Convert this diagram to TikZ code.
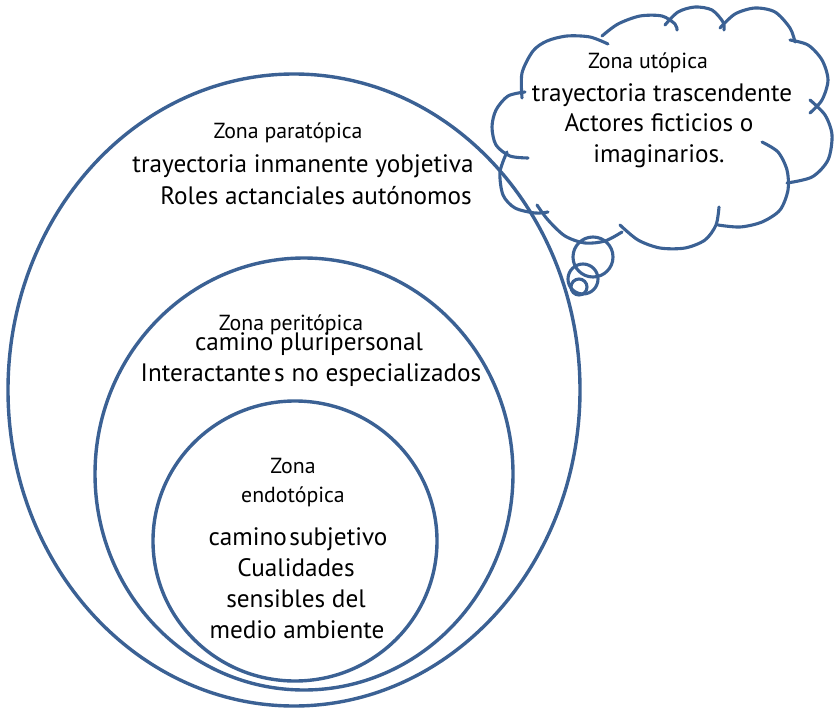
\documentclass[tikz,border=0pt]{standalone}
\usepackage{fontspec}
\setmainfont{PT Sans}
\definecolor{lineblue}{HTML}{3B6194}
\begin{document}
\begin{tikzpicture}[x=1pt,y=-1pt,
  ring/.style={draw=lineblue,line width=3.4pt},
  puff/.style={draw=lineblue,line width=3.1pt,line cap=round},
  small/.style={font=\fontsize{21.8}{24}\selectfont,inner sep=0pt,anchor=base},
  big/.style={font=\fontsize{25.2}{28}\selectfont,inner sep=0pt,anchor=base}]
\useasboundingbox (0,0) rectangle (838,709);
% circles
\draw[ring] (294,390) ellipse [x radius=286, y radius=316];
\draw[ring] (304,474) ellipse [x radius=209, y radius=216];
\draw[ring] (295,541) ellipse [x radius=142, y radius=140];
% cloud
\draw[puff] plot[smooth] coordinates {(522,98) (522,73) (533,51) (547,41) (567,36) (590,37) (608,44)};
\draw[puff] plot[smooth] coordinates {(602,36) (618,24) (640,16) (662,16) (675,24) (677,30)};
\draw[puff] plot[smooth] coordinates {(665,25) (678,12) (695,7) (712,10) (723,22) (724,30)};
\draw[puff] plot[smooth] coordinates {(720,28) (735,14) (755,8) (775,12) (790,28) (795,42)};
\draw[puff] plot[smooth] coordinates {(790,40) (808,45) (822,60) (828,80) (822,100) (810,113)};
\draw[puff] plot[smooth] coordinates {(810,100) (825,115) (832,135) (828,160) (812,177) (787,183)};
\draw[puff] plot[smooth] coordinates {(762,142) (778,152) (787,170) (788,190) (780,210) (762,222) (740,227) (718,225)};
\draw[puff] plot[smooth] coordinates {(719,207) (716,225) (705,240) (685,248) (660,248) (638,240) (620,225)};
\draw[puff] plot[smooth] coordinates {(537,205) (548,220) (565,236) (585,243) (605,241) (622,232)};
\draw[puff] plot[smooth] coordinates {(507,152) (500,172) (503,195) (515,208) (535,213) (548,212)};
\draw[puff] plot[smooth] coordinates {(525,92) (508,96) (496,110) (492,127) (496,145) (510,156) (528,158)};
% thought bubbles
\draw[puff] (593,257) circle [radius=20];
\draw[puff] (583,279) circle [radius=15];
\draw[puff] (579,287) circle [radius=8];
% texts
\node[small] (t1) at (288,138) {Zona paratópica};
\node[big] (t2) at (303,172) {trayectoria inmanente yobjetiva};
\node[big] (t3) at (316,204) {Roles actanciales autónomos};
\node[small] (t4) at (291,330) {Zona peritópica};
\node[big] (t5) at (309,350) {camino pluripersonal};
\node[big] (t6) at (311,381) {Interactante\hspace{0.12em}s no especializados};
\node[small] (t7) at (293,473) {Zona};
\node[small] (t8) at (293,502) {endotópica};
\node[big] (t9) at (298,545) {camino\hspace{0.1em}subjetivo};
\node[big] (t10) at (296,576) {Cualidades};
\node[big] (t11) at (296,607) {sensibles del};
\node[big] (t12) at (297,638) {medio ambiente};
\node[small] (c1) at (648,69) {Zona utópica};
\node[big] (c2) at (662,101) {trayectoria trascendente};
\node[big] (c3) at (659,131) {Actores ficticios o};
\node[big] (c4) at (659,162) {imaginarios.};
\end{tikzpicture}
\end{document}
